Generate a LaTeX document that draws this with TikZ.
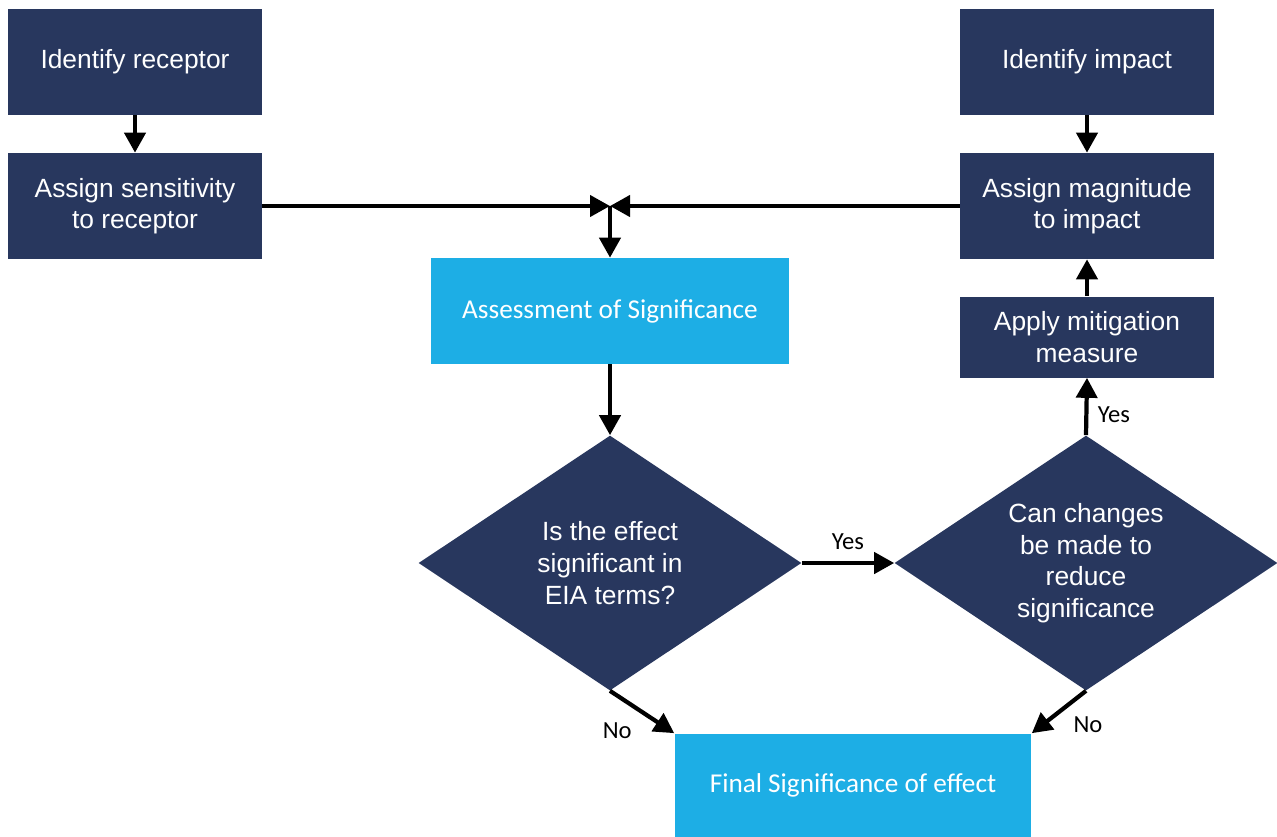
\documentclass[tikz,border=0pt]{standalone}
\usepackage{fontspec}
\setmainfont{Liberation Sans}
\newfontfamily\calibri{Carlito}
\usetikzlibrary{shapes.geometric,arrows.meta,positioning,calc}
\definecolor{NavyBox}{RGB}{40, 55, 94}
\definecolor{SkyBox}{RGB}{29, 174, 229}

\tikzset{
  stepbox/.style={rectangle, fill=NavyBox, text=white, align=center, inner sep=0pt,
    minimum width=5.08cm, minimum height=2.12cm, font=\fontsize{15}{18}\selectfont},
  keybox/.style={rectangle, fill=SkyBox, text=white, align=center, inner sep=0pt,
    minimum height=2.12cm, font=\calibri\fontsize{15.5}{18}\selectfont},
  decision/.style={diamond, aspect=1.5, fill=NavyBox, text=white, align=center, inner sep=0pt,
    minimum width=7.66cm, minimum height=5.1cm, font=\fontsize{15}{18}\selectfont},
  flow/.style={line width=2.4pt, -{Triangle[length=0.4cm, width=0.42cm]}},
  lbl/.style={font=\calibri\fontsize{14}{16}\selectfont}
}

\begin{document}
\begin{tikzpicture}[x=0.02cm, y=-0.02cm]
  \useasboundingbox (0, 0) rectangle (1277, 836);

  % Receptor side
  \node[stepbox] (receptor) at (135, 62) {Identify receptor};
  \node[stepbox] (sensitivity) at (135, 206) {Assign sensitivity\\to receptor};

  % Impact side
  \node[stepbox] (impact) at (1087, 62) {Identify impact};
  \node[stepbox] (magnitude) at (1087, 206) {Assign magnitude\\to impact};
  \node[stepbox, minimum height=1.62cm] (mitigation) at (1087, 337) {Apply mitigation\\measure};

  % Assessment and decisions
  \coordinate (join) at (610, 206);
  \node[keybox, minimum width=7.18cm] (assess) at (610, 311) {Assessment of Significance};
  \node[decision] (significant) at (610, 563) {Is the effect\\significant in\\EIA terms?};
  \node[decision] (reduce) at (1086, 563) {Can changes\\be made to\\reduce\\significance};
  \node[keybox, minimum width=7.14cm, minimum height=2.06cm] (final) at (853, 785) {Final Significance of effect};

  % Connectors
  \draw[flow] (receptor) -- (sensitivity);
  \draw[flow] (impact) -- (magnitude);
  \draw[flow] (sensitivity.east) -- (join);
  \draw[flow] (magnitude.west) -- (join);
  \draw[flow] (join) -- (assess.north);
  \draw[flow] (assess) -- (significant.north);
  \draw[flow] (significant.east) -- (reduce.west) node[lbl, midway, above=3pt] {Yes};
  \draw[flow] (reduce.north) -- (mitigation.south) node[lbl, pos=0.35, right=2pt] {Yes};
  \draw[flow] (mitigation) -- (magnitude);
  \draw[flow] (significant.south) -- (final.north west) node[lbl, pos=0.5, below left=2pt] {No};
  \draw[flow] (reduce.south) -- (final.north east) node[lbl, pos=0.4, below right=1pt] {No};
\end{tikzpicture}
\end{document}
